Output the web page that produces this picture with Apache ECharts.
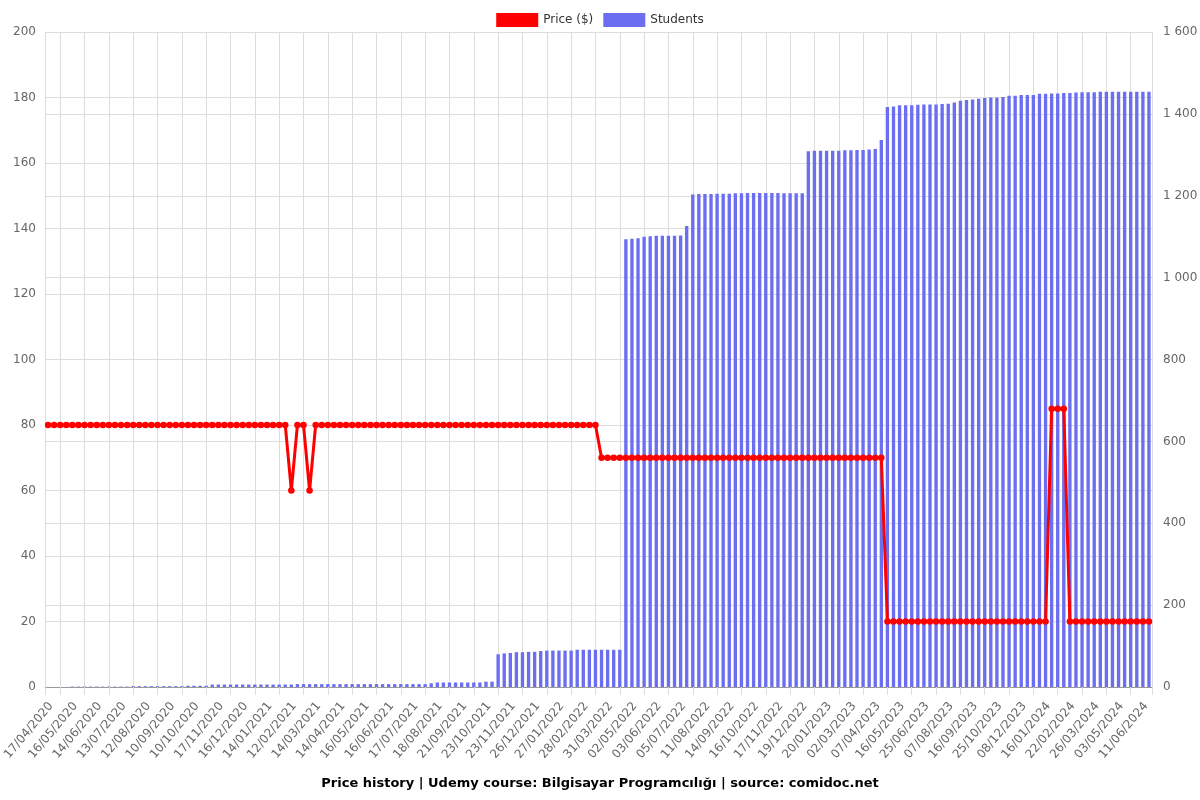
<!DOCTYPE html>
<html><head><meta charset="utf-8">
<script src="https://cdn.jsdelivr.net/npm/echarts@6/dist/echarts.min.js"></script>
<style>html,body{margin:0;padding:0;background:#fff}#c{width:1200px;height:800px}</style>
</head><body><div id="c"></div>
<script>
// Category dates (every 4th one is a visible tick label; the others are estimated)
const dates = [
'17/04/2020','24/04/2020','01/05/2020','08/05/2020','16/05/2020','23/05/2020','30/05/2020','06/06/2020',
'14/06/2020','21/06/2020','28/06/2020','05/07/2020','13/07/2020','20/07/2020','27/07/2020','04/08/2020',
'12/08/2020','19/08/2020','26/08/2020','02/09/2020','10/09/2020','17/09/2020','24/09/2020','02/10/2020',
'10/10/2020','19/10/2020','28/10/2020','07/11/2020','17/11/2020','24/11/2020','01/12/2020','08/12/2020',
'16/12/2020','23/12/2020','30/12/2020','06/01/2021','14/01/2021','21/01/2021','28/01/2021','04/02/2021',
'12/02/2021','19/02/2021','26/02/2021','06/03/2021','14/03/2021','21/03/2021','29/03/2021','06/04/2021',
'14/04/2021','22/04/2021','30/04/2021','08/05/2021','16/05/2021','24/05/2021','01/06/2021','08/06/2021',
'16/06/2021','24/06/2021','02/07/2021','09/07/2021','17/07/2021','25/07/2021','02/08/2021','10/08/2021',
'18/08/2021','26/08/2021','04/09/2021','12/09/2021','21/09/2021','29/09/2021','07/10/2021','15/10/2021',
'23/10/2021','31/10/2021','08/11/2021','15/11/2021','23/11/2021','01/12/2021','09/12/2021','17/12/2021',
'26/12/2021','03/01/2022','11/01/2022','19/01/2022','27/01/2022','04/02/2022','12/02/2022','20/02/2022',
'28/02/2022','08/03/2022','16/03/2022','23/03/2022','31/03/2022','08/04/2022','16/04/2022','24/04/2022',
'02/05/2022','10/05/2022','18/05/2022','26/05/2022','03/06/2022','11/06/2022','19/06/2022','27/06/2022',
'05/07/2022','14/07/2022','23/07/2022','02/08/2022','11/08/2022','19/08/2022','28/08/2022','06/09/2022',
'14/09/2022','22/09/2022','30/09/2022','08/10/2022','16/10/2022','24/10/2022','01/11/2022','09/11/2022',
'17/11/2022','25/11/2022','03/12/2022','11/12/2022','19/12/2022','27/12/2022','04/01/2023','12/01/2023',
'20/01/2023','30/01/2023','09/02/2023','20/02/2023','02/03/2023','11/03/2023','20/03/2023','29/03/2023',
'07/04/2023','17/04/2023','27/04/2023','06/05/2023','16/05/2023','26/05/2023','05/06/2023','15/06/2023',
'25/06/2023','05/07/2023','16/07/2023','27/07/2023','07/08/2023','17/08/2023','27/08/2023','06/09/2023',
'16/09/2023','26/09/2023','05/10/2023','15/10/2023','25/10/2023','05/11/2023','16/11/2023','27/11/2023',
'08/12/2023','18/12/2023','28/12/2023','06/01/2024','16/01/2024','25/01/2024','04/02/2024','13/02/2024',
'22/02/2024','01/03/2024','09/03/2024','17/03/2024','26/03/2024','05/04/2024','15/04/2024','24/04/2024',
'03/05/2024','13/05/2024','23/05/2024','02/06/2024','11/06/2024','20/06/2024'
];

// Price ($), left axis
const price = [
80,80,80,80,80,80,80,80,80,80,80,80,80,80,80,80,80,80,80,80,
80,80,80,80,80,80,80,80,80,80,80,80,80,80,80,80,80,80,80,80,
60,80,80,60,
80,80,80,80,80,80,80,80,80,80,80,80,80,80,80,80,80,80,80,80,
80,80,80,80,80,80,80,80,80,80,80,80,80,80,80,80,80,80,80,80,
80,80,80,80,80,80,80,
70,70,70,70,70,70,70,70,70,70,70,70,70,70,70,70,70,70,70,70,
70,70,70,70,70,70,70,70,70,70,70,70,70,70,70,70,70,70,70,70,
70,70,70,70,70,70,70,
20,20,20,20,20,20,20,20,20,20,20,20,20,20,20,20,20,20,20,20,
20,20,20,20,20,20,20,
85,85,85,
20,20,20,20,20,20,20,20,20,20,20,20,20,20
];

// Students, right axis
const students = [
0,0,0,0, 1,1,1,1,1,1,1,1,1,1, 2,2,2,2,2,2,2,2,2, 3,3,3,3,
6,6,6,6,6,6,6,6,6,6,6,6,6,6, 7,7,7,7,7,7,7,7,7,7,7,7,7,7,7,7,7, 7,7,7,7,7, 9,
11,11,11,11,11,11,11,11, 13,13,
80,82,83,85,85,86,86,88,89,89,89,89,89, 91,91,91,91,91,91,91,91,
1094,1095,1096,1100,1101,1102,1102,1102,1102,1103,1126,
1203,1204,1204,1204,1205,1205,1205,1206,1206,1207,1207,1207,1207,1207,1207,1206,1206,1206,1206,
1309,1310,1310,1310,1310,1310,1311,1311,1312, 1312,1313,1314,1336,
1417,1418,1421,1421,1421,1422,1423,1423,1423,1424,1425,1428,1432,1434,1435,1437,1439,1440,1440,1441,
1444,1444,1446,1446,1446,1449,1449,1450,1450,1451,1451,1452,1453,1453,1453,
1454,1454,1454,1454,1454,1454,1454,1454,1454
];

const titleText = 'Price history | Udemy course: Bilgisayar Programcılığı | source: comidoc.net';
const FONT = 'DejaVu Sans';
const N = dates.length;   // number of categories (bands)
const STEP = 4;           // a date label every 4th category

// Helper axis on half-band steps (positions 0, 0.5, 1, ... N in band units),
// used to place the rotated date labels and the vertical grid lines between them.
const halfSteps = Array.from({length: 2 * N + 1}, (_, i) => String(i));
const isLabelSlot = i => i % (2 * STEP) === 2;                          // band pos 4k+1
const isGridSlot = i => i % (2 * STEP) === 5 || i === 0 || i === 2 * N; // band pos 4k+2.5 and edges

const chart = echarts.init(document.getElementById('c'), null, {renderer: 'canvas'});
chart.setOption({
  animation: false,
  backgroundColor: '#fff',
  textStyle: {fontFamily: FONT},
  title: {
    text: titleText, left: 'center', top: 772,
    textStyle: {fontFamily: FONT, fontSize: 13, fontWeight: 'bold', color: '#000'}
  },
  legend: {
    top: 8, left: 'center', itemWidth: 42, itemHeight: 14, itemGap: 10,
    textStyle: {fontFamily: FONT, fontSize: 12, color: '#333'},
    data: [{name: 'Price ($)', icon: 'rect'}, {name: 'Students', icon: 'rect'}]
  },
  grid: {left: 45, right: 48, top: 32, bottom: 113, containLabel: false, outerBoundsMode: 'none'},
  xAxis: [
    { // data axis (bars and line)
      type: 'category', data: dates, boundaryGap: true,
      axisLine: {show: true, lineStyle: {color: '#999'}},
      axisTick: {show: false}, splitLine: {show: false},
      axisLabel: {show: false}
    },
    { // date labels + vertical grid lines
      type: 'category', data: halfSteps, boundaryGap: false, position: 'bottom',
      axisLine: {show: false},
      axisTick: {show: true, length: 8, interval: (i) => isGridSlot(i), lineStyle: {color: '#ddd'}},
      splitLine: {show: true, interval: (i) => isGridSlot(i), lineStyle: {color: '#ddd', width: 1}},
      axisLabel: {
        show: true, interval: (i) => isLabelSlot(i), rotate: 50,
        fontFamily: FONT, fontSize: 12, color: '#666', margin: 17,
        formatter: (v) => { const i = +v; return isLabelSlot(i) ? dates[(i - 2) / 2] : ''; }
      }
    }
  ],
  yAxis: [
    {
      type: 'value', min: 0, max: 200, interval: 20, position: 'left',
      axisLine: {show: false}, axisTick: {show: false},
      axisLabel: {fontFamily: FONT, fontSize: 12, color: '#666', margin: 9},
      splitLine: {show: true, lineStyle: {color: '#ddd'}}
    },
    {
      type: 'value', min: 0, max: 1600, interval: 200, position: 'right',
      axisLine: {show: false}, axisTick: {show: false},
      axisLabel: {fontFamily: FONT, fontSize: 12, color: '#666', margin: 11,
        formatter: v => String(v).replace(/\B(?=(\d{3})+(?!\d))/g, ' ')},
      splitLine: {show: true, lineStyle: {color: '#ddd'}}
    }
  ],
  series: [
    {
      name: 'Price ($)', type: 'line', xAxisIndex: 0, yAxisIndex: 0, data: price,
      symbol: 'circle', symbolSize: 6.5, showSymbol: true, showAllSymbol: true,
      lineStyle: {width: 3, color: '#ff0000'}, itemStyle: {color: '#ff0000'}, z: 5
    },
    {
      name: 'Students', type: 'bar', xAxisIndex: 0, yAxisIndex: 1, data: students,
      barWidth: '55%', itemStyle: {color: '#6b6ef0'}, z: 2
    }
  ]
});
</script>
</body></html>
